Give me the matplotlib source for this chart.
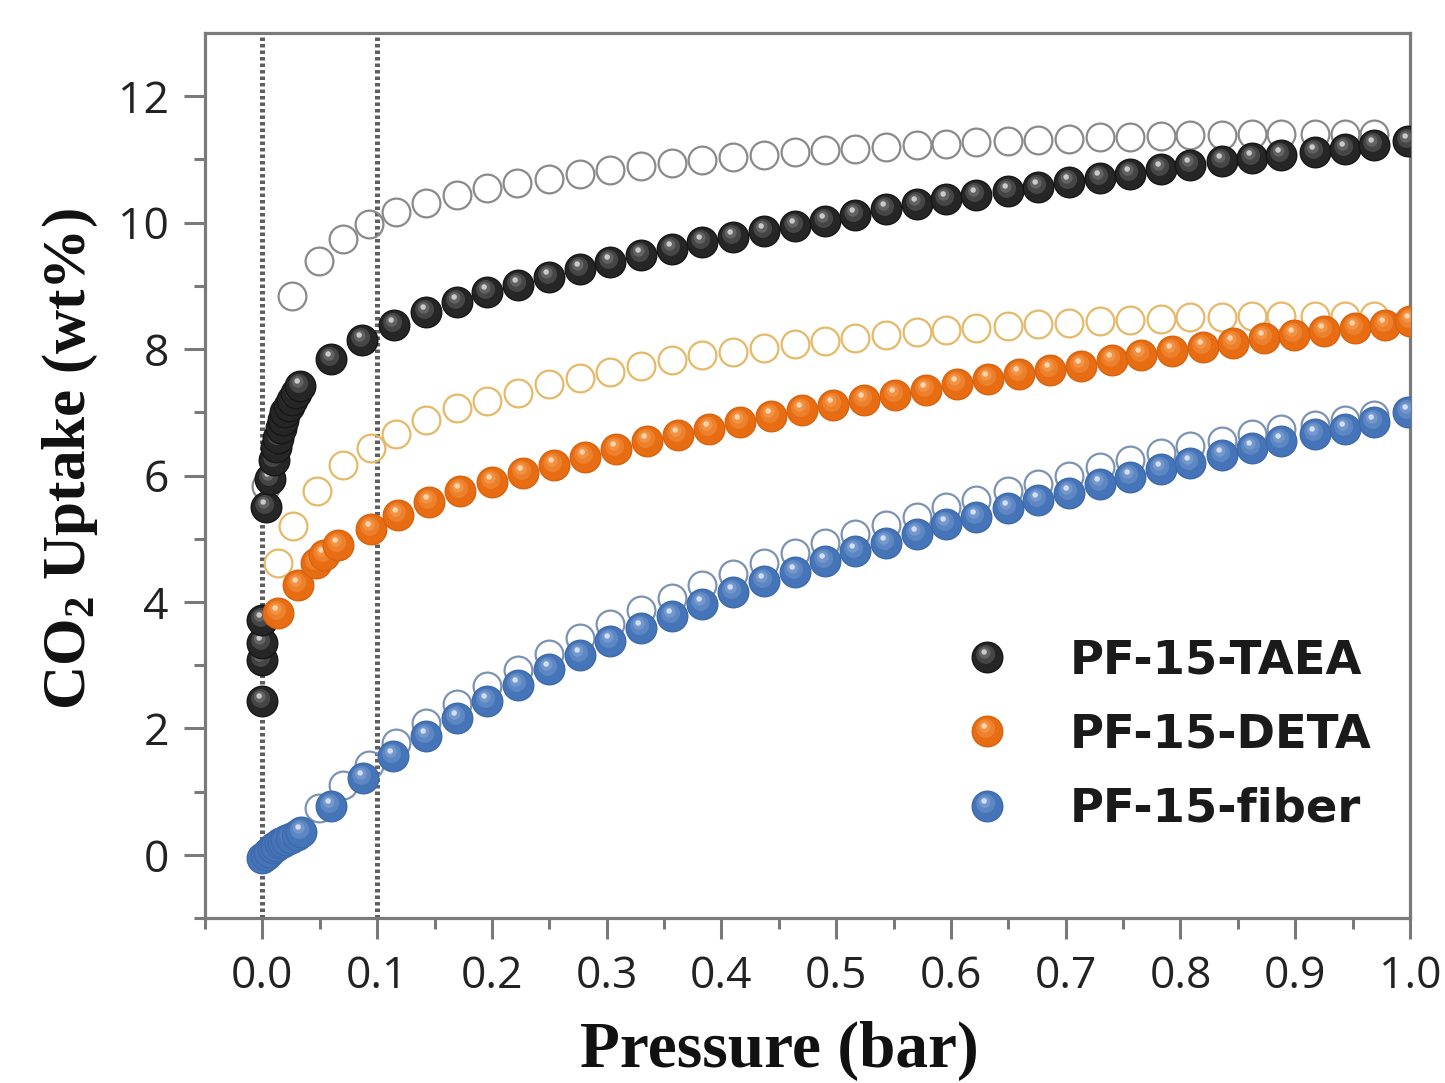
import numpy as np
import matplotlib
matplotlib.use("Agg")
import matplotlib.pyplot as plt
from matplotlib.path import Path
from matplotlib.legend_handler import HandlerTuple

# ---------------- data ----------------
taea_fill_x = [0.0, 0.0, 0.0, 0.0, 0.003, 0.007, 0.010, 0.012, 0.014, 0.016, 0.018, 0.020,
               0.023, 0.026, 0.029, 0.033, 0.060, 0.087, 0.115, 0.143, 0.170, 0.196, 0.223,
               0.250, 0.277, 0.303, 0.330, 0.357, 0.383, 0.410, 0.437, 0.464, 0.490, 0.516,
               0.543, 0.570, 0.596, 0.622, 0.650, 0.676, 0.703, 0.730, 0.756, 0.783, 0.808,
               0.836, 0.862, 0.888, 0.917, 0.943, 0.969, 0.998]
taea_fill_y = [2.43, 3.08, 3.35, 3.71, 5.50, 5.95, 6.25, 6.45, 6.60, 6.75, 6.88, 7.00,
               7.10, 7.20, 7.30, 7.42, 7.85, 8.15, 8.38, 8.59, 8.75, 8.90, 9.02,
               9.14, 9.27, 9.38, 9.49, 9.58, 9.69, 9.77, 9.87, 9.95, 10.03, 10.12,
               10.22, 10.30, 10.37, 10.44, 10.50, 10.56, 10.64, 10.71, 10.77, 10.85, 10.91,
               10.97, 11.02, 11.07, 11.12, 11.16, 11.23, 11.29]
taea_open_x = [0.003, 0.026, 0.049, 0.070, 0.093, 0.116, 0.143, 0.170, 0.196, 0.222, 0.250,
               0.277, 0.303, 0.330, 0.357, 0.383, 0.410, 0.437, 0.464, 0.490, 0.516, 0.543,
               0.570, 0.596, 0.622, 0.650, 0.676, 0.703, 0.730, 0.756, 0.783, 0.808, 0.836,
               0.862, 0.888, 0.917, 0.943, 0.969]
taea_open_y = [5.84, 8.84, 9.40, 9.74, 9.98, 10.17, 10.31, 10.44, 10.55, 10.63, 10.69,
               10.77, 10.83, 10.90, 10.94, 10.99, 11.04, 11.07, 11.12, 11.15, 11.16, 11.20,
               11.23, 11.24, 11.27, 11.29, 11.31, 11.33, 11.35, 11.35, 11.37, 11.38, 11.38,
               11.40, 11.41, 11.41, 11.41, 11.41]

deta_fill_x = [0.014, 0.031, 0.047, 0.054, 0.066, 0.095, 0.118, 0.145, 0.172, 0.200, 0.227,
               0.254, 0.281, 0.308, 0.335, 0.362, 0.389, 0.416, 0.443, 0.470, 0.497, 0.524,
               0.551, 0.578, 0.605, 0.632, 0.659, 0.686, 0.713, 0.740, 0.766, 0.793, 0.820,
               0.846, 0.873, 0.899, 0.925, 0.952, 0.978, 1.000]
deta_fill_y = [3.82, 4.26, 4.61, 4.74, 4.90, 5.16, 5.37, 5.58, 5.75, 5.90, 6.04,
               6.17, 6.30, 6.42, 6.54, 6.64, 6.74, 6.84, 6.94, 7.03, 7.12, 7.20,
               7.28, 7.36, 7.44, 7.52, 7.60, 7.67, 7.74, 7.82, 7.90, 7.97, 8.04,
               8.10, 8.17, 8.22, 8.28, 8.33, 8.38, 8.44]
deta_open_x = [0.014, 0.027, 0.048, 0.070, 0.095, 0.116, 0.143, 0.170, 0.196, 0.223, 0.250,
               0.277, 0.303, 0.330, 0.357, 0.383, 0.410, 0.437, 0.464, 0.490, 0.516, 0.543,
               0.570, 0.596, 0.622, 0.650, 0.676, 0.703, 0.730, 0.756, 0.783, 0.808, 0.836,
               0.862, 0.888, 0.917, 0.943, 0.969]
deta_open_y = [4.61, 5.20, 5.76, 6.16, 6.43, 6.66, 6.88, 7.06, 7.18, 7.31, 7.44,
               7.55, 7.64, 7.74, 7.82, 7.90, 7.96, 8.02, 8.08, 8.13, 8.18, 8.23,
               8.27, 8.30, 8.34, 8.37, 8.40, 8.42, 8.45, 8.46, 8.48, 8.50, 8.51,
               8.53, 8.53, 8.53, 8.53, 8.53]

fiber_fill_x = [0.000, 0.003, 0.006, 0.009, 0.012, 0.015, 0.018, 0.021, 0.025, 0.030, 0.034,
                0.060, 0.088, 0.114, 0.143, 0.170, 0.196, 0.223, 0.250, 0.277, 0.303, 0.330,
                0.357, 0.383, 0.410, 0.437, 0.464, 0.490, 0.516, 0.543, 0.570, 0.596, 0.622,
                0.650, 0.676, 0.703, 0.730, 0.756, 0.783, 0.808, 0.836, 0.862, 0.888, 0.917,
                0.943, 0.969, 0.998]
fiber_fill_y = [-0.05, 0.00, 0.05, 0.10, 0.14, 0.18, 0.20, 0.23, 0.27, 0.32, 0.36,
                0.77, 1.22, 1.56, 1.88, 2.16, 2.43, 2.68, 2.94, 3.16, 3.38, 3.58,
                3.77, 3.96, 4.15, 4.33, 4.48, 4.64, 4.80, 4.94, 5.08, 5.23, 5.35,
                5.48, 5.61, 5.73, 5.86, 5.98, 6.10, 6.20, 6.32, 6.43, 6.54, 6.65,
                6.74, 6.85, 7.00]
fiber_open_x = [0.049, 0.070, 0.093, 0.116, 0.143, 0.170, 0.196, 0.223, 0.250, 0.277, 0.303,
                0.330, 0.357, 0.383, 0.410, 0.437, 0.464, 0.490, 0.516, 0.543, 0.570, 0.596,
                0.622, 0.650, 0.676, 0.703, 0.730, 0.756, 0.783, 0.808, 0.836, 0.862, 0.888,
                0.917, 0.943, 0.969]
fiber_open_y = [0.74, 1.10, 1.42, 1.77, 2.08, 2.38, 2.67, 2.92, 3.17, 3.43, 3.65,
                3.87, 4.07, 4.26, 4.44, 4.61, 4.77, 4.93, 5.07, 5.21, 5.35, 5.50,
                5.62, 5.75, 5.87, 6.00, 6.13, 6.24, 6.35, 6.46, 6.55, 6.65, 6.73,
                6.80, 6.88, 6.96]

series_labels = ["PF-15-TAEA", "PF-15-DETA", "PF-15-fiber"]
x_ticks = [0.0, 0.1, 0.2, 0.3, 0.4, 0.5, 0.6, 0.7, 0.8, 0.9, 1.0]
y_ticks = [0, 2, 4, 6, 8, 10, 12]
guide_lines = [0.0, 0.1]

# ---------------- style ----------------
W, H = 1445, 1083
fig = plt.figure(figsize=(W / 100, H / 100), dpi=100)
L, R, T, B = 205, 1410, 33, 918
ax = fig.add_axes([L / W, (H - B) / H, (R - L) / W, (B - T) / H])
ax.set_xlim(-0.05, 1.0)
ax.set_ylim(-1, 13)

spine_c = "#7a7a7a"
for s in ax.spines.values():
    s.set_color(spine_c)
    s.set_linewidth(2.3)

ax.set_xticks(x_ticks)
ax.set_xticklabels([f"{v:.1f}" for v in x_ticks])
ax.set_xticks(np.arange(-0.05, 1.0, 0.1), minor=True)
ax.set_yticks(y_ticks)
ax.set_yticks(np.arange(-1, 13, 2), minor=True)
ax.tick_params(which="major", direction="out", length=15, width=2.2, color=spine_c,
               labelsize=32, pad=11, labelcolor="#222222")
ax.tick_params(which="minor", direction="out", length=8, width=2.2, color=spine_c)
for lab in ax.get_xticklabels() + ax.get_yticklabels():
    lab.set_fontfamily("Open Sans")

for gx in guide_lines:
    ax.axvline(gx, color="#5f5f5f", lw=3.6, ls=(0, (0.7, 0.6)), zorder=1,
               solid_capstyle="round")


def hl_marker(cx, cy, r):
    anchor = Path([(1.0, 1.0)], [Path.MOVETO])
    circ = Path.circle((cx, cy), r)
    return Path.make_compound_path(anchor, circ)


HL1 = hl_marker(-0.12, 0.20, 0.62)
HL2 = hl_marker(-0.18, 0.30, 0.38)
HL3 = hl_marker(-0.22, 0.36, 0.18)

ball_ms = 22.0
ring_ms = 20.0


def ball_artists(ax, x, y, base, edge, mid, hi, z):
    a = ax.plot([x], [y], ls="none", marker="o", ms=ball_ms, mfc=base, mec=edge,
                mew=1.0, zorder=z)[0]
    b = ax.plot([x], [y], ls="none", marker=HL1, ms=ball_ms, mfc=mid, mec="none",
                alpha=0.45, zorder=z + 0.001)[0]
    c = ax.plot([x], [y], ls="none", marker=HL2, ms=ball_ms, mfc=mid, mec="none",
                alpha=0.75, zorder=z + 0.002)[0]
    d = ax.plot([x], [y], ls="none", marker=HL3, ms=ball_ms, mfc=hi, mec="none",
                alpha=0.9, zorder=z + 0.003)[0]
    return (a, b, c, d)


styles = [
    dict(fx=taea_fill_x, fy=taea_fill_y, ox=taea_open_x, oy=taea_open_y,
         base="#262626", edge="#161616", mid="#6e6e6e", hi="#d6d6d6", ring="#8a8a8a"),
    dict(fx=deta_fill_x, fy=deta_fill_y, ox=deta_open_x, oy=deta_open_y,
         base="#e86c12", edge="#d8630e", mid="#f59a4c", hi="#fcdcbc", ring="#e5b968"),
    dict(fx=fiber_fill_x, fy=fiber_fill_y, ox=fiber_open_x, oy=fiber_open_y,
         base="#4574b8", edge="#3d6aab", mid="#7c9fd2", hi="#dde8f7", ring="#7d93b3"),
]

handles = []
zbase = 3.0
for st in styles:
    ax.plot(st["ox"], st["oy"], ls="none", marker="o", ms=ring_ms, mfc="none",
            mec=st["ring"], mew=1.6, zorder=2.5)
for st in styles:
    h = None
    for i, (x, y) in enumerate(zip(st["fx"], st["fy"])):
        art = ball_artists(ax, x, y, st["base"], st["edge"], st["mid"], st["hi"],
                           zbase + i * 0.01)
        if h is None:
            h = art
    zbase += 1.0
    handles.append(h)

leg = ax.legend(handles, series_labels, handler_map={tuple: HandlerTuple(ndivide=1, pad=0)},
                loc="upper left", bbox_to_anchor=(0.6305, 0.316), frameon=False,
                prop={"family": "DejaVu Sans", "weight": "bold", "size": 33.5},
                handlelength=0.95, handletextpad=1.3, labelspacing=0.63, borderpad=0,
                borderaxespad=0)
for t in leg.get_texts():
    t.set_color("#1a1a1a")

ax.set_xlabel("Pressure (bar)", fontfamily="Liberation Serif", fontweight="bold",
              fontsize=47, color="#111111")
ax.xaxis.set_label_coords(0.477, -0.116)
ax.set_ylabel(r"CO$_{\mathdefault{2}}$ Uptake (wt%)", fontfamily="Liberation Serif",
              fontweight="bold", fontsize=44, color="#111111")
ax.yaxis.set_label_coords(-0.087, 0.519)

fig.savefig("out.png", dpi=100)
